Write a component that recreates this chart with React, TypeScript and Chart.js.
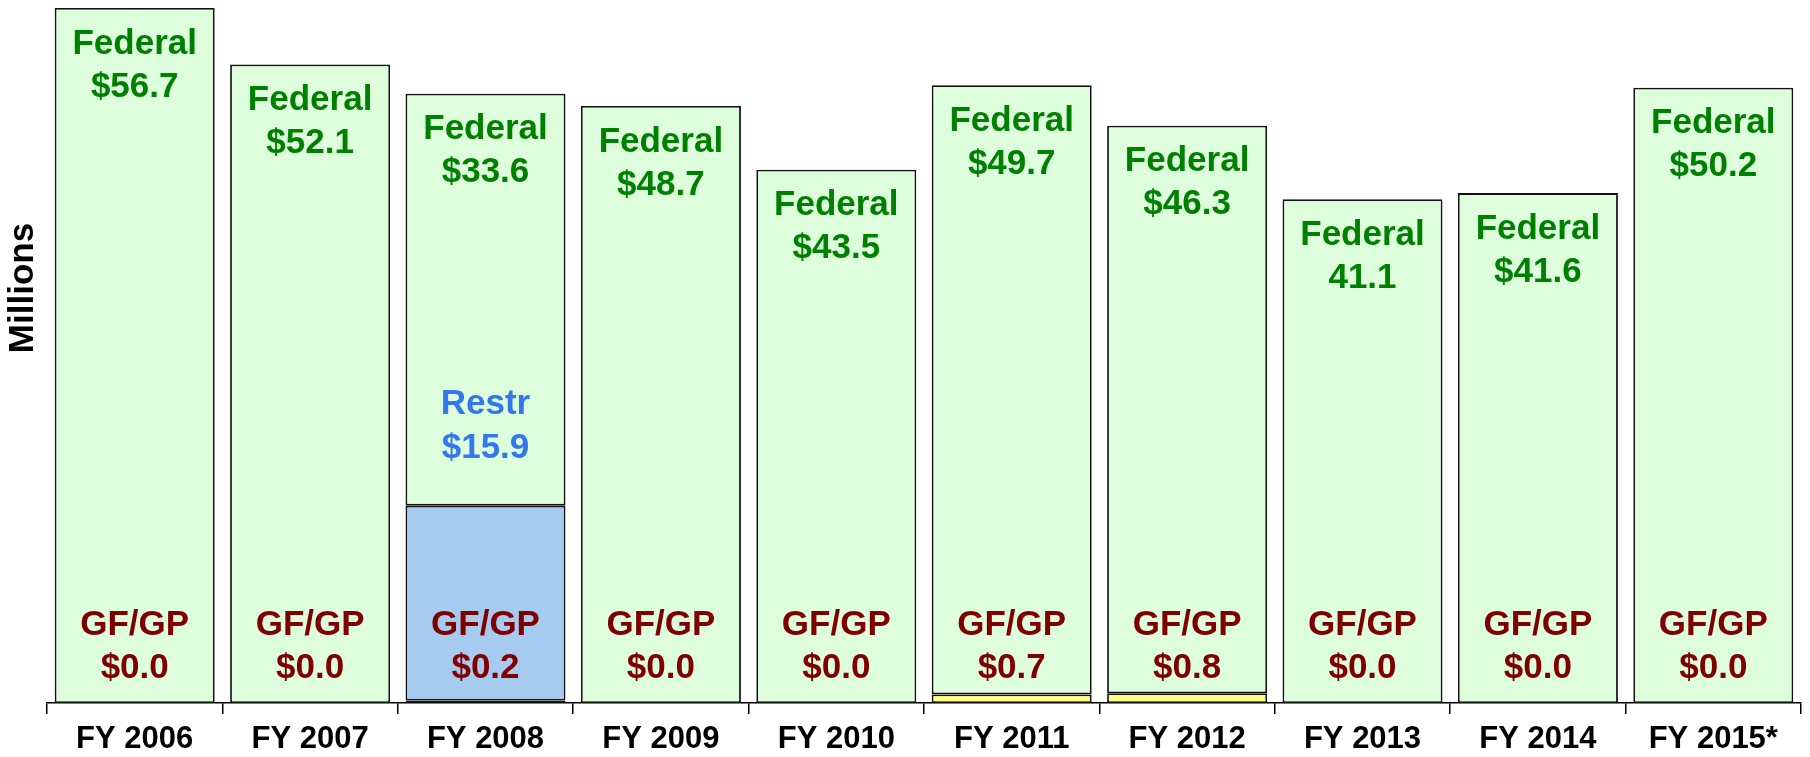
import React, { useEffect, useRef } from "react";
import { Chart, registerables } from "chart.js";

Chart.register(...registerables);

const categories = ["FY 2006", "FY 2007", "FY 2008", "FY 2009", "FY 2010", "FY 2011", "FY 2012", "FY 2013", "FY 2014", "FY 2015*"];
const gfgpValues = [0.0, 0.0, 0.2, 0.0, 0.0, 0.7, 0.8, 0.0, 0.0, 0.0];
const restrValues = [0, 0, 15.9, 0, 0, 0, 0, 0, 0, 0];
const federalValues = [56.7, 52.1, 33.6, 48.7, 43.5, 49.7, 46.3, 41.1, 41.6, 50.2];
const federalLabels = ["$56.7", "$52.1", "$33.6", "$48.7", "$43.5", "$49.7", "$46.3", "41.1", "$41.6", "$50.2"];

const FONT = "'Liberation Sans', Arial, Helvetica, sans-serif";

const labelPlugin = {
  id: "barLabels",
  afterDatasetsDraw(chart: any) {
    const ctx = chart.ctx;
    const restrMeta = chart.getDatasetMeta(1);
    const fedMeta = chart.getDatasetMeta(2);
    const base = chart.scales.y.getPixelForValue(0);
    ctx.save();
    ctx.textAlign = "center";
    ctx.textBaseline = "middle";
    ctx.font = `bold 35px ${FONT}`;
    categories.forEach((_, i) => {
      const fed = fedMeta.data[i];
      const x = fed.x;
      ctx.fillStyle = "#008000";
      ctx.fillText("Federal", x, fed.y + 36);
      ctx.fillText(federalLabels[i], x, fed.y + 79);
      if (restrValues[i] > 0) {
        const r = restrMeta.data[i];
        ctx.fillStyle = "#3377EE";
        ctx.fillText("Restr", x, r.y - 101);
        ctx.fillText("$" + restrValues[i].toFixed(1), x, r.y - 57);
      }
      ctx.fillStyle = "#800000";
      ctx.fillText("GF/GP", x, base - 78);
      ctx.fillText("$" + gfgpValues[i].toFixed(1), x, base - 35);
    });
    ctx.restore();
  },
  afterDraw(chart: any) {
    const ctx = chart.ctx;
    ctx.save();
    ctx.translate(23, 288);
    ctx.rotate(-Math.PI / 2);
    ctx.textAlign = "center";
    ctx.textBaseline = "middle";
    ctx.fillStyle = "#000000";
    ctx.font = `bold 35px ${FONT}`;
    ctx.fillText("Millions", 0, 0);
    ctx.restore();
  },
};

export default function App() {
  const canvasRef = useRef<HTMLCanvasElement | null>(null);

  useEffect(() => {
    if (!canvasRef.current) return;
    const border = "#111111";
    const common = {
      borderColor: border,
      borderWidth: 1.8,
      borderSkipped: false,
      barPercentage: 0.912,
      categoryPercentage: 1.0,
    };
    const chart = new Chart(canvasRef.current, {
      type: "bar",
      data: {
        labels: categories,
        datasets: [
          { label: "GF/GP", data: gfgpValues, backgroundColor: "#FFFF80", ...common },
          { label: "Restr", data: restrValues, backgroundColor: "#A6CAF0", ...common },
          { label: "Federal", data: federalValues, backgroundColor: "#DDFDDD", ...common },
        ],
      },
      options: {
        animation: false,
        responsive: false,
        maintainAspectRatio: false,
        layout: { padding: { left: 47, right: 9, top: 8, bottom: 0 } },
        plugins: {
          legend: { display: false },
          tooltip: { enabled: false },
        },
        scales: {
          x: {
            stacked: true,
            offset: true,
            grid: {
              display: true,
              drawOnChartArea: false,
              drawTicks: true,
              tickLength: 11,
              color: "#000000",
              lineWidth: 1.5,
              offset: true,
            },
            border: { display: true, color: "#000000", width: 1.5 },
            ticks: {
              color: "#000000",
              padding: 7,
              maxRotation: 0,
              autoSkip: false,
              font: { family: FONT, size: 31, weight: "bold" },
            },
            afterFit(scale: any) {
              scale.height = 54;
            },
          },
          y: {
            stacked: true,
            display: false,
            min: 0,
            max: 56.7,
          },
        },
      },
      plugins: [labelPlugin],
    } as any);
    return () => chart.destroy();
  }, []);

  return (
    <div style={{ position: "absolute", left: 0, top: 0, width: 1810, height: 757, background: "#ffffff" }}>
      <canvas ref={canvasRef} width={1810} height={757} style={{ width: 1810, height: 757, display: "block" }} />
    </div>
  );
}
